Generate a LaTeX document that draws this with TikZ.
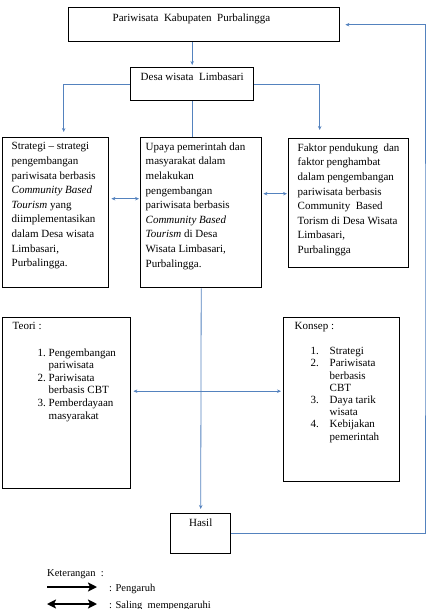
\documentclass[tikz,border=0pt]{standalone}
\usepackage{fontspec}
\setmainfont{Liberation Serif}
\usetikzlibrary{arrows.meta, positioning}
\definecolor{garisbiru}{RGB}{84,130,190}
\tikzset{
	kotak/.style={
		draw,
		line width=1.4pt,
		anchor=north west,
		inner sep=0pt,
		font=\fontsize{11}{14.6}\selectfont
	},
	hubung/.style={
		draw=garisbiru,
		line width=0.8pt
	},
	panah/.style={
		hubung,
		-{Stealth[length=4pt,width=3.5pt]}
	},
	panahdua/.style={
		hubung,
		{Stealth[length=4pt,width=3.5pt]}-{Stealth[length=4pt,width=3.5pt]}
	},
	tebal/.style={
		line width=2.4pt,
		-{Stealth[length=9pt,width=9pt,inset=2pt]}
	},
	tebaldua/.style={
		line width=2.4pt,
		{Stealth[length=9pt,width=9pt,inset=2pt]}-{Stealth[length=9pt,width=9pt,inset=2pt]}
	},
	ket/.style={
		anchor=base west,
		inner sep=0pt,
		font=\fontsize{10.5}{12}\selectfont
	}
}
\newcommand{\isi}[3]{\parbox[t][#2][t]{#1}{\raggedright #3}}

\begin{document}
\begin{tikzpicture}[x=1pt, y=-1pt]
		\useasboundingbox (0,0) rectangle (426,609);
		\node[kotak, inner xsep=44pt, inner ysep=6pt] (pariwisata) at (68,7) {\isi{183pt}{22pt}{Pariwisata\ \ Kabupaten\ \ Purbalingga}};
		\node[kotak, inner xsep=4pt, inner ysep=5pt] (desa) at (130,67) {\isi{115pt}{23pt}{\centering Desa wisata\ \ Limbasari}};
		
		\node[kotak, inner xsep=9pt, inner ysep=5pt] (strategi) at (2,137) {\isi{88pt}{140pt}{Strategi – strategi\\ pengembangan\\ pariwisata berbasis\\ \textit{Community Based}\\ \textit{Tourism} yang\\ diimplementasikan\\ dalam Desa wisata\\ Limbasari,\\ Purbalingga.}};
		\node[kotak, inner xsep=5pt, inner ysep=5pt] (upaya) at (140,137) {\isi{111pt}{140pt}{Upaya pemerintah dan\\ masyarakat dalam\\ melakukan\\ pengembangan\\ pariwisata berbasis\\ \textit{Community Based}\\ \textit{Tourism} di Desa\\ Wisata Limbasari,\\ Purbalingga.}};
		\node[kotak, inner xsep=9pt, inner ysep=5pt] (faktor) at (288,138) {\isi{102pt}{119pt}{Faktor pendukung\ \ dan\\ faktor penghambat\\ dalam pengembangan\\ pariwisata berbasis\\ Community\ \ Based\\ Torism di Desa Wisata\\ Limbasari,\\ Purbalingga}};
		
		\node[kotak, inner xsep=10pt, inner ysep=5pt] (teori) at (2,317) {\isi{108pt}{161pt}{Teori :\par\vspace{13.5pt}
			{\fontsize{11}{12.6}\selectfont
			\hspace*{25pt}\makebox[11pt][l]{1.}Pengembangan\\
			\hspace*{36pt}pariwisata\\
			\hspace*{25pt}\makebox[11pt][l]{2.}Pariwisata\\
			\hspace*{36pt}berbasis CBT\\
			\hspace*{25pt}\makebox[11pt][l]{3.}Pemberdayaan\\
			\hspace*{36pt}masyarakat\par}}};
		\node[kotak, inner xsep=11pt, inner ysep=5pt] (konsep) at (283,317) {\isi{94pt}{154pt}{Konsep :\par\vspace{12.5pt}
			{\fontsize{11}{12.2}\selectfont
			\hspace*{16pt}\makebox[19pt][l]{1.}Strategi\\
			\hspace*{16pt}\makebox[19pt][l]{2.}Pariwisata\\
			\hspace*{35pt}berbasis\\
			\hspace*{35pt}CBT\\
			\hspace*{16pt}\makebox[19pt][l]{3.}Daya tarik\\
			\hspace*{35pt}wisata\\
			\hspace*{16pt}\makebox[19pt][l]{4.}Kebijakan\\
			\hspace*{35pt}pemerintah\par}}};
		
		\node[kotak, inner xsep=4pt, inner ysep=5pt] (hasil) at (170,513) {\isi{52pt}{30pt}{\centering Hasil}};
		\coordinate (kanan) at (425,300);
		
		\draw[panah, shorten >=2pt] (pariwisata.south -| desa.north) -- (desa.north);
		\draw[panah, shorten >=5pt] (desa.west) -| ([xshift=8pt]strategi.north);
		\draw[panah, shorten >=8pt] (desa.east) -| ([xshift=-29pt]faktor.north);
		\draw[hubung] (desa.south) -- (desa.south |- upaya.north);
		\draw[panahdua, shorten <=2pt, shorten >=1pt] ([yshift=14pt]strategi.east) -- ([yshift=14pt]strategi.east -| upaya.west);
		\draw[panahdua, shorten <=1pt, shorten >=1pt] ([yshift=19pt]upaya.east) -- ([yshift=19pt]upaya.east -| faktor.west);
		\draw[panah, shorten >=4pt] (upaya.south) -- (hasil.north);
		\draw[panahdua, shorten <=2pt, shorten >=2pt] ([yshift=12pt]teori.east) -- ([yshift=12pt]teori.east -| konsep.west);
		\draw[panah, shorten >=5pt] (hasil.east) -| (kanan) |- (pariwisata.east);
		
		\node[ket] (keterangan) at (47,576) {Keterangan\ \ :};
		\coordinate (p1a) at (47,587);
		\coordinate (p1b) at (97,587);
		\coordinate (p2a) at (47,604);
		\coordinate (p2b) at (97,604);
		\draw[tebal] (p1a) -- (p1b);
		\draw[tebaldua] (p2a) -- (p2b);
		\node[ket] (pengaruh) at (109,591) {: Pengaruh};
		\node[ket] (saling) at (109,608) {: Saling\ \ mempengaruhi};
\end{tikzpicture}
\end{document}
